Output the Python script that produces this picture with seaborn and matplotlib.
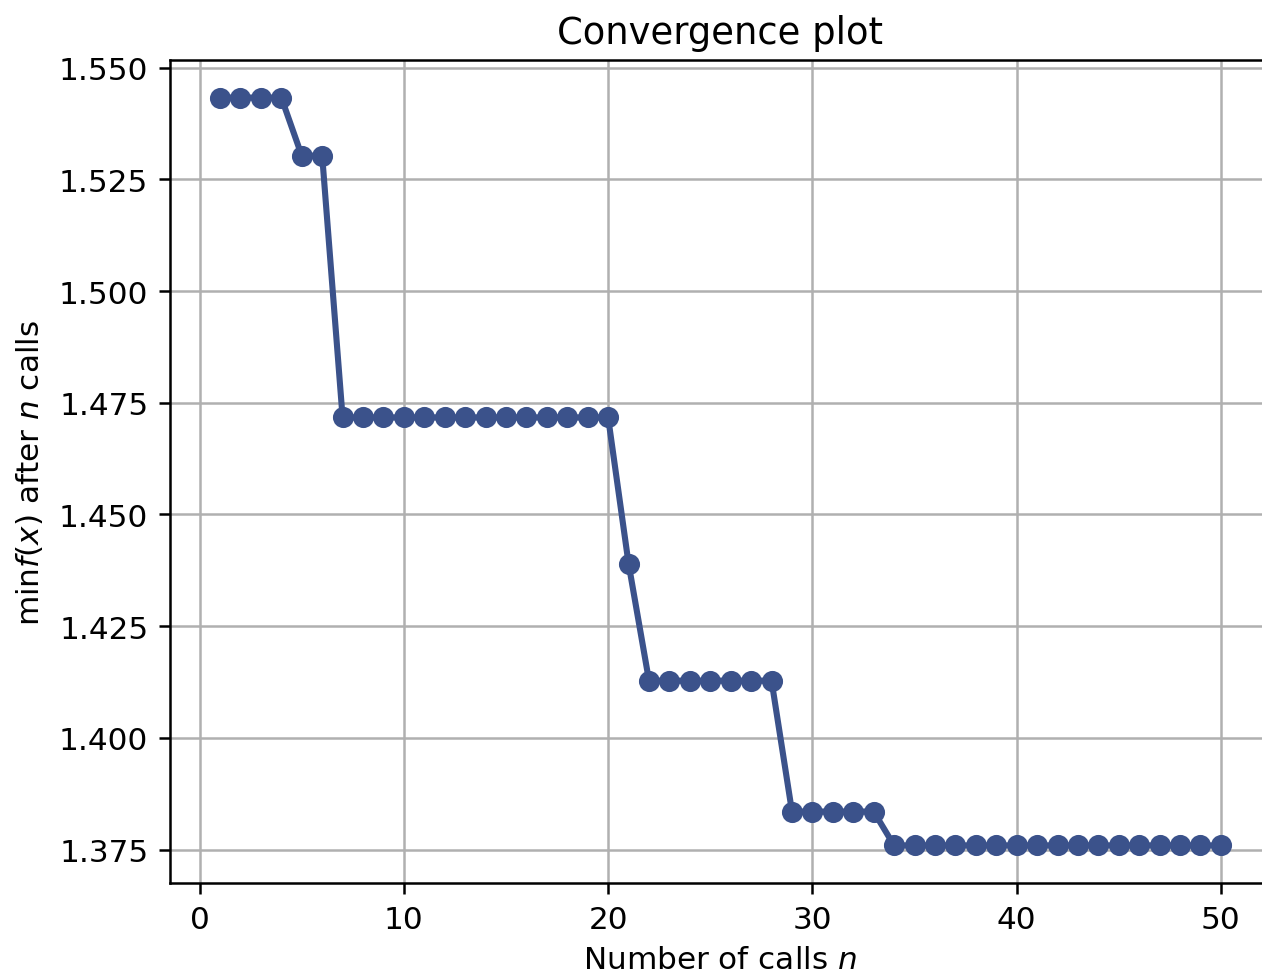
import numpy as np
import pandas as pd
import matplotlib
matplotlib.use('Agg')
import matplotlib.pyplot as plt
import seaborn as sns

# best value found after n calls
n_calls = list(range(1, 51))
min_f = ([1.5433] * 4 + [1.5303] * 2 + [1.4717] * 14 + [1.4390]
         + [1.4128] * 7 + [1.3835] * 5 + [1.3759] * 17)

df = pd.DataFrame({'n_calls': n_calls, 'min_f': min_f})

line_color = plt.cm.viridis(0.25)

fig = plt.figure(figsize=(6.31, 4.89), dpi=200)
ax = fig.add_axes([0.1347, 0.0961, 0.8724, 0.8415])

sns.lineplot(data=df, x='n_calls', y='min_f', ax=ax, color=line_color,
             marker='.', markersize=13, lw=2.2,
             markeredgecolor=line_color, markeredgewidth=1.1)

ax.grid(True, lw=0.9)
ax.set_xlim(-1.45, 52.45)
ax.set_ylim(1.3675, 1.5517)
ax.set_title('Convergence plot', fontsize=13.3, pad=6)
ax.set_xlabel('Number of calls $n$', fontsize=11.2, labelpad=4)
ax.set_ylabel(r'$\min f(x)$ after $n$ calls', fontsize=11.2, labelpad=5)
ax.tick_params(labelsize=11.2, length=3.8, width=0.9, pad=4)
for sp in ax.spines.values():
    sp.set_linewidth(0.9)
# the right edge of the axes is cut off in the reference
ax.spines['right'].set_visible(False)

fig.savefig('out.png', dpi=200)
